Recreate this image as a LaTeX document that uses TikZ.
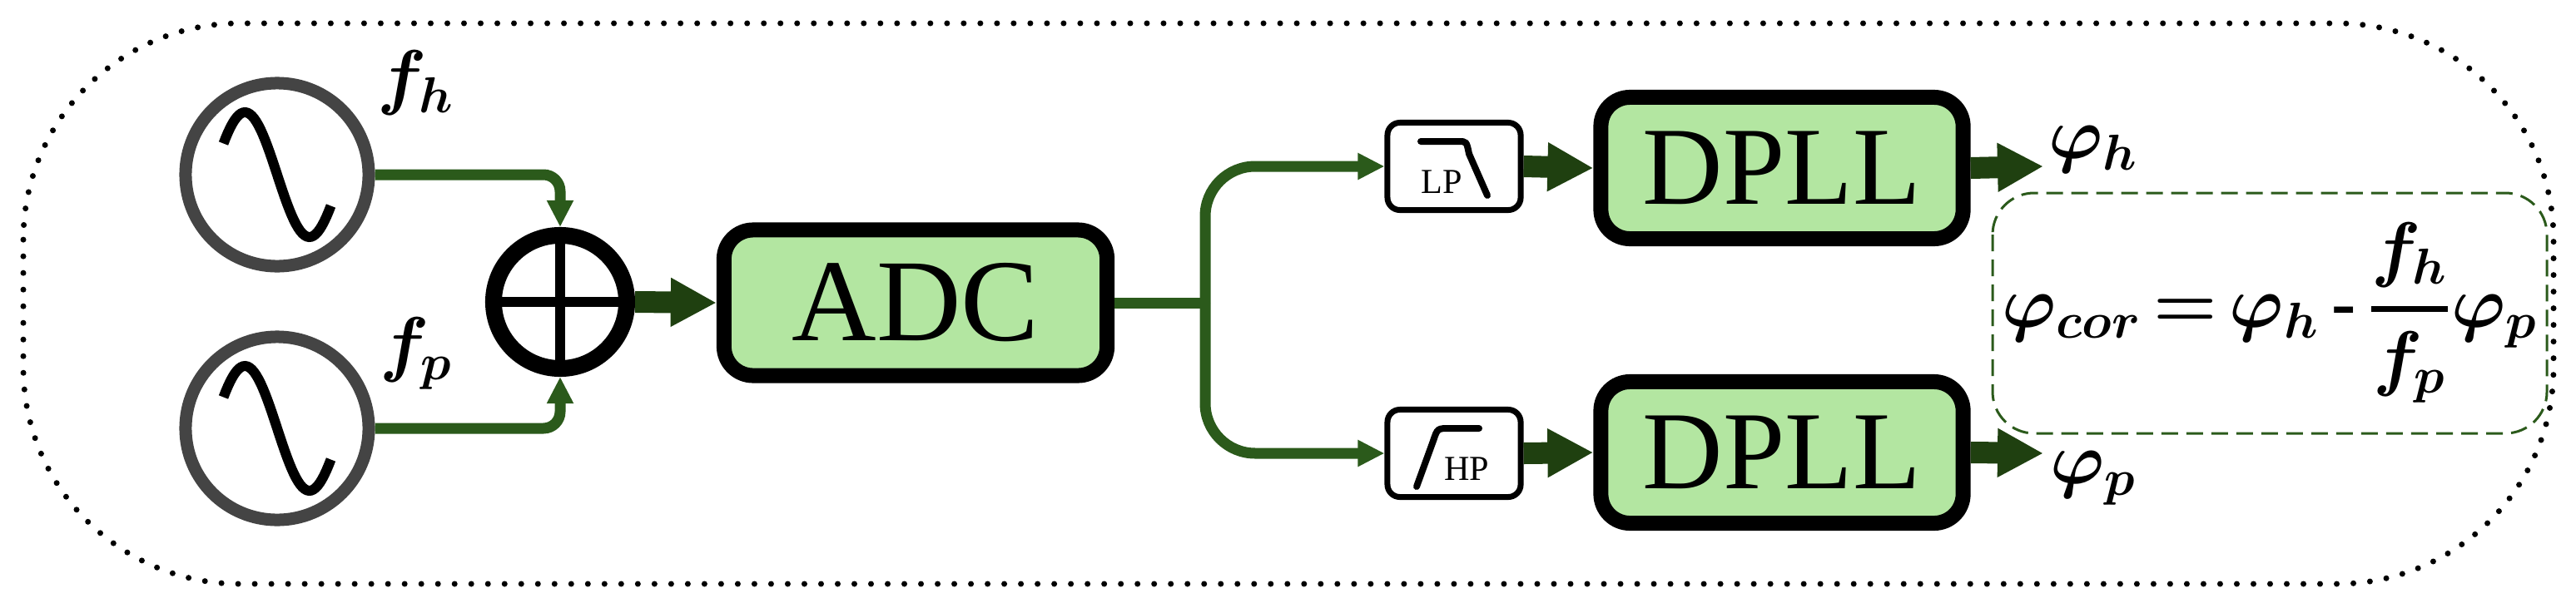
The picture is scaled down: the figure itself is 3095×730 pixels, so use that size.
\documentclass[tikz,border=0pt]{standalone}
\usepackage{amsmath,bm}
\usepackage{fontspec}
\setmainfont{Liberation Serif}
\usetikzlibrary{arrows.meta}
\definecolor{lgreen}{HTML}{B3E6A1}
\definecolor{gline}{HTML}{2B5A1B}
\definecolor{garrow}{HTML}{1F4010}
\definecolor{ring}{HTML}{444444}
\begin{document}
\begin{tikzpicture}[x=0.01cm,y=-0.01cm,
  src/.style={circle,draw=ring,line width=0.15cm,minimum size=2.2cm,inner sep=0pt},
  blk/.style={draw=black,fill=lgreen,line width=0.18cm,rounded corners=0.35cm,inner sep=0pt},
  filt/.style={draw=black,fill=white,line width=0.07cm,rounded corners=0.15cm,minimum width=1.6cm,minimum height=1.05cm,inner sep=0pt},
  thin/.style={draw=gline,line width=0.13cm,-{Triangle[length=0.32cm,width=0.3cm]}},
  thick/.style={draw=garrow,line width=0.26cm,-{Triangle[length=0.55cm,width=0.55cm]}},
  lab/.style={font=\fontsize{25}{25}\selectfont}]
\useasboundingbox (0,0) rectangle (3095,730);
\draw[line width=0.07cm,line cap=round,dash pattern=on 0pt off 0.2cm,rounded corners=2.6cm] (28,28) rectangle (3068,702);
% sources
\node[src] (s1) at (333,210) {};
\node[src] (s2) at (333,515) {};
\foreach \s in {s1,s2}
  \draw[line width=0.12cm,shift={(\s.center)}] plot[domain=-150:150,samples=50] ({0.43*\x},{75*sin(\x)});
\node[lab] (fh) at (500,100) {$\bm{f_h}$};
\node[lab] (fp) at (500,425) {$\bm{f_p}$};
% sum
\node[circle,draw=black,line width=0.2cm,minimum size=1.6cm,inner sep=0pt] (sum) at (673,363) {};
\draw[line width=0.12cm] ([yshift=-0.8cm]sum.center) -- ([yshift=0.8cm]sum.center);
\draw[line width=0.12cm] ([xshift=-0.8cm]sum.center) -- ([xshift=0.8cm]sum.center);
\draw[thin,rounded corners=0.2cm] (s1.east) -- (sum.north |- s1.east) -- (sum.north);
\draw[thin,rounded corners=0.2cm] (s2.east) -- (sum.south |- s2.east) -- (sum.south);
% ADC
\node[blk,minimum width=4.6cm,minimum height=1.75cm,font=\fontsize{40}{40}\selectfont] (adc) at (1100,364) {ADC};
\draw[thick] (sum.east) -- (adc.west);
% branches
\coordinate (j) at (1448,364);
\node[filt] (lp) at (1747,200) {};
\node[filt] (hp) at (1747,545) {};
\draw[gline,line width=0.13cm] (adc.east) -- (j);
\draw[thin,rounded corners=0.6cm] (j) |- (lp.west);
\draw[thin,rounded corners=0.6cm] (j) |- (hp.west);
% filter icons
\draw[line width=0.08cm,line cap=round] ([shift={(-40,-30)}]lp.center) -- ([shift={(5,-30)}]lp.center) .. controls ([shift={(15,-30)}]lp.center) .. ([shift={(18,-15)}]lp.center) -- ([shift={(40,35)}]lp.center);
\node[font=\fontsize{12}{12}\selectfont,anchor=south] at ([shift={(-15,45)}]lp.center) {LP};
\draw[line width=0.08cm,line cap=round] ([shift={(-45,40)}]hp.center) -- ([shift={(-25,-15)}]hp.center) .. controls ([shift={(-20,-30)}]hp.center) .. ([shift={(-5,-30)}]hp.center) -- ([shift={(30,-30)}]hp.center);
\node[font=\fontsize{12}{12}\selectfont,anchor=south] at ([shift={(15,45)}]hp.center) {HP};
% DPLL
\node[blk,minimum width=4.35cm,minimum height=1.7cm,font=\fontsize{38}{38}\selectfont] (d1) at (2141,202) {DPLL};
\node[blk,minimum width=4.35cm,minimum height=1.7cm,font=\fontsize{38}{38}\selectfont] (d2) at (2141,544) {DPLL};
\draw[thick] (lp.east) -- (d1.west);
\draw[thick] (hp.east) -- (d2.west);
\coordinate (o1) at (2455,200);
\coordinate (o2) at (2455,545);
\draw[thick] (d1.east) -- (o1);
\draw[thick] (d2.east) -- (o2);
\node[lab] (ph) at (2515,180) {$\bm{\varphi_h}$};
\node[lab] (pp) at (2515,575) {$\bm{\varphi_p}$};
% formula
\draw[gline,line width=0.03cm,dash pattern=on 0.2cm off 0.1cm,rounded corners=0.5cm] (2394,232) rectangle (3060,521);
\node[font=\fontsize{25}{25}\selectfont] (frm) at (2727,376) {$\bm{\varphi_{cor} \mskip-2mu=\mskip-2mu \varphi_h \text{\bfseries\,-\,} \genfrac{}{}{2pt}{0}{f_h}{f_p}\varphi_p}$};
\end{tikzpicture}
\end{document}
